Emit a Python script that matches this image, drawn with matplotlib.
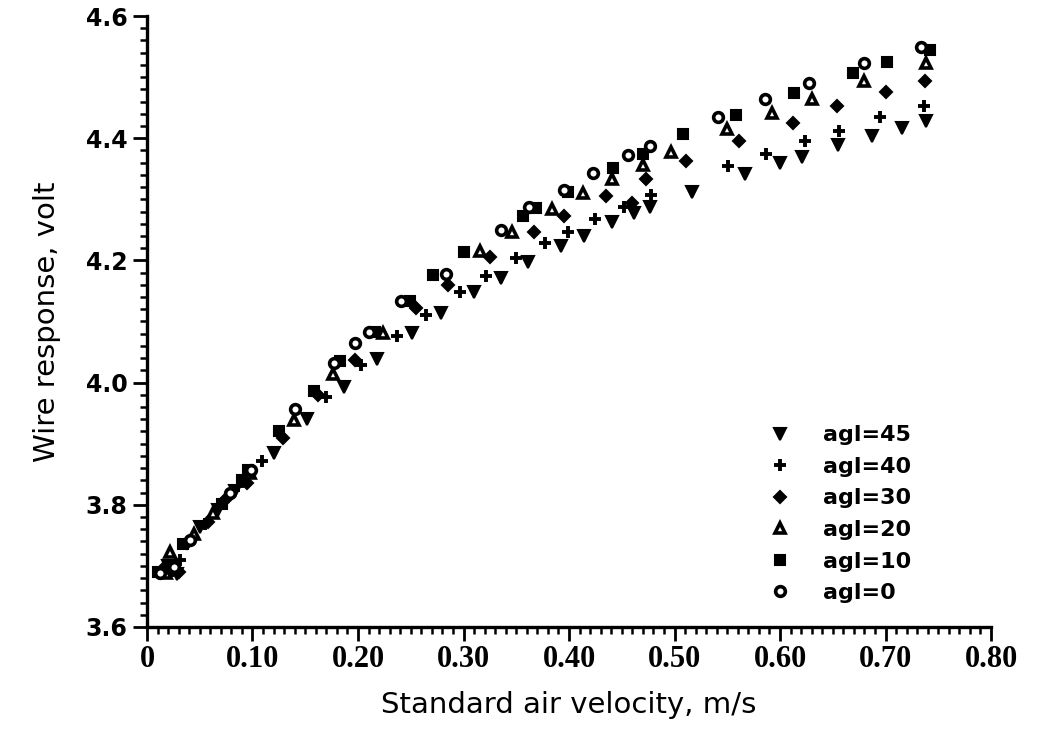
import matplotlib
matplotlib.use("Agg")
import matplotlib.pyplot as plt
from matplotlib.ticker import MultipleLocator, FixedLocator, FixedFormatter

# standard air velocity (m/s) and wire response (volt) per probe angle
vel_45 = [0.738, 0.716, 0.687, 0.655, 0.621, 0.600, 0.567, 0.517, 0.477, 0.462,
          0.441, 0.414, 0.392, 0.361, 0.336, 0.310, 0.279, 0.251, 0.218, 0.187,
          0.152, 0.120, 0.083, 0.067, 0.050, 0.028, 0.020]
volt_45 = [4.428, 4.417, 4.404, 4.389, 4.370, 4.359, 4.341, 4.312, 4.287, 4.277,
           4.263, 4.240, 4.224, 4.197, 4.172, 4.148, 4.114, 4.081, 4.038, 3.992,
           3.940, 3.884, 3.822, 3.792, 3.764, 3.687, 3.700]

vel_40 = [0.736, 0.695, 0.656, 0.624, 0.587, 0.551, 0.478, 0.452, 0.425, 0.399,
          0.377, 0.350, 0.321, 0.297, 0.264, 0.237, 0.203, 0.170, 0.109, 0.086,
          0.055, 0.031, 0.024]
volt_40 = [4.453, 4.434, 4.412, 4.396, 4.374, 4.355, 4.307, 4.288, 4.267, 4.247,
           4.228, 4.204, 4.175, 4.148, 4.111, 4.076, 4.028, 3.977, 3.871, 3.831,
           3.768, 3.710, 3.692]

vel_30 = [0.737, 0.700, 0.654, 0.612, 0.561, 0.511, 0.473, 0.435, 0.460, 0.395,
          0.367, 0.325, 0.285, 0.255, 0.197, 0.162, 0.129, 0.095, 0.075, 0.058,
          0.038, 0.030, 0.016]
volt_30 = [4.494, 4.475, 4.452, 4.425, 4.395, 4.363, 4.334, 4.306, 4.294, 4.273,
           4.246, 4.205, 4.160, 4.122, 4.037, 3.980, 3.909, 3.836, 3.810, 3.772,
           3.738, 3.690, 3.696]

vel_20 = [0.738, 0.680, 0.630, 0.592, 0.550, 0.497, 0.470, 0.441, 0.413, 0.384,
          0.346, 0.316, 0.224, 0.176, 0.139, 0.098, 0.063, 0.045, 0.022, 0.018]
volt_20 = [4.523, 4.493, 4.464, 4.441, 4.415, 4.378, 4.356, 4.334, 4.311, 4.284,
           4.247, 4.216, 4.081, 4.014, 3.938, 3.852, 3.786, 3.752, 3.723, 3.688]

vel_10 = [0.742, 0.701, 0.669, 0.613, 0.558, 0.508, 0.470, 0.442, 0.399, 0.369,
          0.356, 0.300, 0.271, 0.249, 0.216, 0.183, 0.158, 0.125, 0.096, 0.090,
          0.071, 0.034, 0.010]
volt_10 = [4.544, 4.524, 4.506, 4.474, 4.438, 4.407, 4.374, 4.352, 4.312, 4.285,
           4.272, 4.213, 4.176, 4.134, 4.083, 4.035, 3.987, 3.920, 3.857, 3.840,
           3.801, 3.736, 3.690]

vel_0 = [0.734, 0.680, 0.627, 0.586, 0.541, 0.477, 0.456, 0.423, 0.395, 0.362,
         0.336, 0.283, 0.241, 0.210, 0.197, 0.177, 0.140, 0.099, 0.079, 0.041,
         0.026, 0.012]
volt_0 = [4.549, 4.523, 4.491, 4.464, 4.434, 4.388, 4.373, 4.343, 4.315, 4.287,
          4.250, 4.177, 4.134, 4.083, 4.064, 4.032, 3.956, 3.857, 3.820, 3.742,
          3.698, 3.689]

x_ticks = [0, 0.10, 0.20, 0.30, 0.40, 0.50, 0.60, 0.70, 0.80]
x_labels = ["0", "0.10", "0.20", "0.30", "0.40", "0.50", "0.60", "0.70", "0.80"]
y_ticks = [3.6, 3.8, 4.0, 4.2, 4.4, 4.6]
y_labels = ["3.6", "3.8", "4.0", "4.2", "4.4", "4.6"]

fig = plt.figure(figsize=(10.41, 7.34), dpi=100)
ax = fig.add_axes([0.1412, 0.1458, 0.8108, 0.8324])

series = [
    ("agl=45", vel_45, volt_45, dict(marker="v", ms=8, mfc="black", mec="black", mew=1.5)),
    ("agl=40", vel_40, volt_40, dict(marker="+", ms=8, mfc="black", mec="black", mew=2.8)),
    ("agl=30", vel_30, volt_30, dict(marker="D", ms=6.5, mfc="black", mec="black", mew=1.5)),
    ("agl=20", vel_20, volt_20, dict(marker="^", ms=7, mfc="white", mec="black", mew=2.6)),
    ("agl=10", vel_10, volt_10, dict(marker="s", ms=7.5, mfc="black", mec="black", mew=1.5)),
    ("agl=0", vel_0, volt_0, dict(marker="o", ms=7, mfc="white", mec="black", mew=2.6)),
]
for label, xs, ys, style in series:
    ax.plot(xs, ys, linestyle="none", label=label, **style)

ax.set_xlim(0, 0.80)
ax.set_ylim(3.6, 4.6)
for side in ("top", "right"):
    ax.spines[side].set_visible(False)
for side in ("left", "bottom"):
    ax.spines[side].set_linewidth(2.4)

ax.xaxis.set_major_locator(FixedLocator(x_ticks))
ax.xaxis.set_major_formatter(FixedFormatter(x_labels))
ax.xaxis.set_minor_locator(MultipleLocator(0.01))
ax.yaxis.set_major_locator(FixedLocator(y_ticks))
ax.yaxis.set_major_formatter(FixedFormatter(y_labels))
ax.yaxis.set_minor_locator(MultipleLocator(0.02))
ax.tick_params(which="major", direction="out", length=10, width=2.0, color="black")
ax.tick_params(which="minor", direction="out", length=5, width=1.8, color="black")
ax.tick_params(axis="x", which="major", pad=3)
ax.tick_params(axis="y", which="major", pad=4)

for t in ax.get_xticklabels():
    t.set_fontfamily("Liberation Serif")
    t.set_fontweight("bold")
    t.set_fontsize(22)
for t in ax.get_yticklabels():
    t.set_fontfamily("DejaVu Sans")
    t.set_fontweight("bold")
    t.set_fontsize(17)

ax.set_xlabel("Standard air velocity, m/s", fontsize=21, labelpad=12)
ax.set_ylabel("Wire response, volt", fontsize=21, labelpad=18)

leg = ax.legend(loc="upper left", bbox_to_anchor=(0.737, 0.33), frameon=False,
                prop=dict(family="DejaVu Sans", weight="bold", size=16),
                handlelength=1.0, handletextpad=1.45, labelspacing=0.52,
                borderaxespad=0.0, borderpad=0.0)

fig.savefig("out.png", dpi=100)
